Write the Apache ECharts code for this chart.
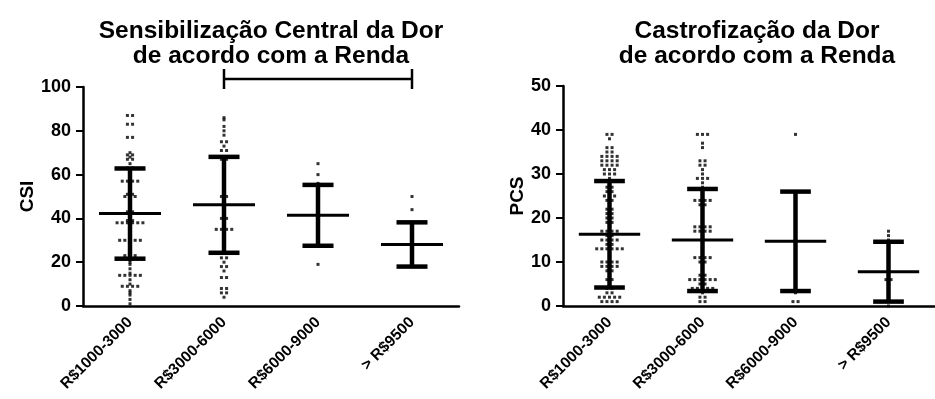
<!DOCTYPE html>
<html>
<head>
<meta charset="utf-8">
<script src="https://cdn.jsdelivr.net/npm/echarts@6/dist/echarts.min.js"></script>
<style>
  html, body { margin: 0; padding: 0; background: #fff; }
  #main { width: 935px; height: 399px; }
</style>
</head>
<body>
<div id="main"></div>
<script>
// faixas de renda (eixo x)
var categories = ['R$1000-3000', 'R$3000-6000', 'R$6000-9000', '> R$9500'];

// CSI - valores individuais por faixa
var csiGroup1 = [87, 87, 83, 83, 77, 77, 70, 69, 69, 68, 67, 67, 65, 63, 63, 62, 61, 60, 58, 57, 57, 57, 57, 56,
  55, 54, 53, 52, 51, 51, 50, 50, 50, 49, 48, 47, 45, 44, 43, 43, 42, 41, 40, 39, 39, 38, 38, 38, 38, 38, 38, 37,
  36, 35, 34, 33, 31, 30, 30, 30, 30, 30, 29, 28, 27, 26, 25, 24, 23, 23, 23, 22, 21, 20, 19, 17,
  15, 14, 14, 14, 14, 14, 12, 10, 9, 9, 9, 9, 7, 6, 5, 3, 1];
var csiGroup2 = [86, 85, 82, 80, 78, 75, 75, 73, 71, 71, 68, 67, 67, 66, 65, 64, 63, 62, 61, 60, 59, 58, 57, 56, 55,
  54, 53, 52, 51, 50, 50, 49, 48, 47, 46, 45, 44, 43, 42, 41, 40, 40, 39, 38, 37, 36, 35, 35, 35, 35, 33, 31, 30,
  28, 26, 24, 22, 22, 20, 18, 18, 16, 13, 13, 8, 8, 6, 6, 4];
var csiGroup3 = [65, 60, 56, 45, 35, 28, 19];
var csiGroup4 = [50, 44, 30, 25, 20, 18];
var csiMean = [42.2, 46.2, 41.4, 28.1];
var csiSD = [20.6, 21.9, 13.9, 10.1];

// PCS - valores individuais por faixa
var pcsGroup1 = [39, 39, 38, 36, 36, 35, 35, 34, 34, 34, 34, 33, 33, 33, 33, 32, 32, 32, 32, 31, 31, 31, 30, 30, 30,
  29, 28, 27, 27, 26, 26, 25, 25, 25, 24, 24, 23, 22, 22, 21, 21, 20, 20, 19, 19, 18, 17, 17, 17, 17, 16, 16,
  15, 15, 15, 15, 14, 14, 13, 13, 13, 13, 13, 13, 12, 11, 10, 10, 10, 10, 9, 9, 9, 9, 8, 8, 7, 6, 6, 5, 4, 4,
  3, 3, 2, 2, 2, 2, 2, 1, 1, 1, 1];
var pcsGroup2 = [39, 39, 39, 37, 36, 33, 33, 32, 32, 31, 30, 29, 29, 29, 28, 27, 26, 25, 24, 24, 24, 24, 23, 23, 22,
  21, 20, 18, 18, 18, 18, 17, 17, 17, 17, 16, 15, 14, 13, 12, 11, 11, 11, 11, 10, 10, 9, 8, 7, 7,
  6, 6, 6, 6, 6, 6, 5, 5, 4, 4, 4, 4, 4, 3, 2, 2, 1, 1];
var pcsGroup3 = [39, 16, 15, 3, 1, 1];
var pcsGroup4 = [17, 16, 15, 6, 6, 1, 1, 0];
var pcsMean = [16.3, 15.0, 14.7, 7.8];
var pcsSD = [12.1, 11.6, 11.3, 6.8];

// diferença significativa (colchete no painel CSI)
var csiBracket = ['R$3000-6000', '> R$9500'];

var font = 'Liberation Sans, Arial, sans-serif';

// espalha pontos repetidos lado a lado (estilo GraphPad)
function swarm(groups, step) {
  var out = [];
  groups.forEach(function(vals, ci) {
    var counts = {}, seen = {};
    vals.forEach(function(v) { counts[v] = (counts[v] || 0) + 1; });
    vals.forEach(function(v) {
      var n = counts[v];
      var k = seen[v] || 0;
      seen[v] = k + 1;
      out.push([ci + (k - (n - 1) / 2) * step, v]);
    });
  });
  return out;
}

function errorData(mean, sd) {
  return mean.map(function(m, i) { return [i, m, sd[i]]; });
}

function renderError(params, api) {
  var i = api.value(0), m = api.value(1), s = api.value(2);
  var c = api.coord([i, m]);
  var hi = api.coord([i, m + s]);
  var lo = api.coord([i, m - s]);
  var band = api.size([1, 0])[0];
  var half = band * 0.33, cap = band * 0.165;
  var st = { stroke: '#000', lineWidth: 4.5 };
  return {
    type: 'group',
    children: [
      { type: 'line', shape: { x1: c[0], y1: hi[1], x2: c[0], y2: lo[1] }, style: st },
      { type: 'line', shape: { x1: c[0] - cap, y1: hi[1], x2: c[0] + cap, y2: hi[1] }, style: st },
      { type: 'line', shape: { x1: c[0] - cap, y1: lo[1], x2: c[0] + cap, y2: lo[1] }, style: st },
      { type: 'line', shape: { x1: c[0] - half, y1: c[1], x2: c[0] + half, y2: c[1] }, style: { stroke: '#000', lineWidth: 3 } }
    ]
  };
}

function renderBracket(params, api) {
  var a = api.coord([api.value(0), 100]);
  var b = api.coord([api.value(1), 100]);
  var y = a[1] - 8;
  var st = { stroke: '#000', lineWidth: 2.5 };
  return {
    type: 'group',
    children: [
      { type: 'line', shape: { x1: a[0], y1: y, x2: b[0], y2: y }, style: st },
      { type: 'line', shape: { x1: a[0], y1: y - 10, x2: a[0], y2: y + 10 }, style: st },
      { type: 'line', shape: { x1: b[0], y1: y - 10, x2: b[0], y2: y + 10 }, style: st }
    ]
  };
}

function catAxis(grid) {
  return {
    type: 'category', gridIndex: grid, data: categories,
    axisLine: { lineStyle: { color: '#000', width: 2.5 } },
    axisTick: { alignWithLabel: true, length: 8, lineStyle: { color: '#000', width: 2 } },
    axisLabel: { rotate: 45, color: '#000', fontWeight: 'bold', fontSize: 15.5, fontFamily: font, margin: 14 },
    splitLine: { show: false }
  };
}

function hiddenAxis(grid) {
  return { type: 'value', gridIndex: grid, min: -0.5, max: 3.5, show: false };
}

function valAxis(grid, max, interval, name, gap) {
  return {
    type: 'value', gridIndex: grid, min: 0, max: max, interval: interval,
    name: name, nameLocation: 'middle', nameGap: gap,
    nameTextStyle: { color: '#000', fontWeight: 'bold', fontSize: 19, fontFamily: font },
    axisLine: { show: true, onZero: false, lineStyle: { color: '#000', width: 2.5 } },
    axisTick: { show: true, length: 7, lineStyle: { color: '#000', width: 2 } },
    axisLabel: { color: '#000', fontWeight: 'bold', fontSize: 18, fontFamily: font, margin: 12 },
    splitLine: { show: false }
  };
}

var myChart = echarts.init(document.getElementById('main'));

var option = {
  backgroundColor: '#fff',
  animation: false,
  title: [{
    text: 'Sensibilização Central da Dor\nde acordo com a Renda',
    left: 266, top: 14, textAlign: 'center',
    textStyle: { color: '#000', fontWeight: 'bold', fontSize: 24.5, fontFamily: font, lineHeight: 25 }
  }, {
    text: 'Castrofização da Dor\nde acordo com a Renda',
    left: 752, top: 14, textAlign: 'center',
    textStyle: { color: '#000', fontWeight: 'bold', fontSize: 24.5, fontFamily: font, lineHeight: 25 }
  }],
  grid: [
    { left: 83, top: 87, width: 376, height: 219 },
    { left: 563, top: 86, width: 378, height: 220 }
  ],
  xAxis: [catAxis(0), hiddenAxis(0), catAxis(1), hiddenAxis(1)],
  yAxis: [valAxis(0, 100, 20, 'CSI', 41), valAxis(1, 50, 10, 'PCS', 35)],
  series: [{
    type: 'scatter', xAxisIndex: 1, yAxisIndex: 0,
    symbol: 'rect', symbolSize: 3, itemStyle: { color: '#000' },
    data: swarm([csiGroup1, csiGroup2, csiGroup3, csiGroup4], 0.055)
  }, {
    type: 'custom', xAxisIndex: 0, yAxisIndex: 0,
    renderItem: renderError, data: errorData(csiMean, csiSD), z: 3
  }, {
    type: 'custom', xAxisIndex: 0, yAxisIndex: 0, clip: false,
    renderItem: renderBracket,
    data: [[categories.indexOf(csiBracket[0]), categories.indexOf(csiBracket[1])]]
  }, {
    type: 'scatter', xAxisIndex: 3, yAxisIndex: 1,
    symbol: 'rect', symbolSize: 3, itemStyle: { color: '#000' },
    data: swarm([pcsGroup1, pcsGroup2, pcsGroup3, pcsGroup4], 0.055)
  }, {
    type: 'custom', xAxisIndex: 2, yAxisIndex: 1,
    renderItem: renderError, data: errorData(pcsMean, pcsSD), z: 3
  }]
};

myChart.setOption(option);
</script>
</body>
</html>
